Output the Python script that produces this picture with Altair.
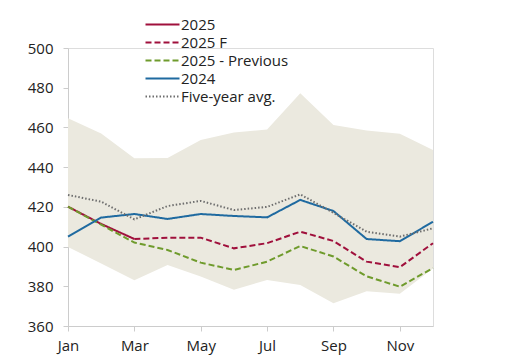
import altair as alt
import pandas as pd

months = ["Jan", "Feb", "Mar", "Apr", "May", "Jun", "Jul", "Aug", "Sep", "Oct", "Nov", "Dec"]
month_num = list(range(1, 13))

band_high = [464.6, 457.0, 444.5, 444.6, 453.7, 457.4, 459.0, 477.2, 461.2, 458.5, 456.8, 448.6]
band_low = [399.8, 391.5, 383.0, 390.7, 384.9, 378.3, 383.2, 380.7, 371.5, 377.5, 376.3, 389.0]

five_year_avg = [426.0, 422.6, 413.7, 420.4, 423.0, 418.4, 420.0, 426.3, 417.0, 407.5, 405.0, 409.2]
y2024 = [405.0, 414.6, 416.4, 413.9, 416.4, 415.4, 414.7, 423.5, 417.9, 403.8, 402.7, 412.5]
y2025_actual = [420.1, 411.4, 403.8]  # Jan-Mar
y2025_forecast = [403.8, 404.5, 404.5, 399.1, 401.7, 407.5, 402.8, 392.4, 389.6, 401.7]  # Mar-Dec
y2025_previous = [420.1, 411.0, 402.0, 398.3, 391.9, 388.2, 392.4, 400.3, 395.0, 385.0, 379.8, 389.2]

series_names = ["2025", "2025 F", "2025 - Previous", "2024", "Five-year avg."]
series_colors = ["#a0103c", "#a0103c", "#6f9b2c", "#1f6aa0", "#6e6e6e"]
series_dash = [[1, 0], [6, 3], [6, 3], [1, 0], [1.5, 2]]
y_ticks = [360, 380, 400, 420, 440, 460, 480, 500]
x_ticks = [1, 3, 5, 7, 9, 11]

rows = []
for m, v in zip(month_num[:3], y2025_actual):
    rows.append({"m": m, "v": v, "s": "2025"})
for m, v in zip(month_num[2:], y2025_forecast):
    rows.append({"m": m, "v": v, "s": "2025 F"})
for m, v in zip(month_num, y2025_previous):
    rows.append({"m": m, "v": v, "s": "2025 - Previous"})
for m, v in zip(month_num, y2024):
    rows.append({"m": m, "v": v, "s": "2024"})
for m, v in zip(month_num, five_year_avg):
    rows.append({"m": m, "v": v, "s": "Five-year avg."})
lines_df = pd.DataFrame(rows)

band_df = pd.DataFrame({"m": month_num, "lo": band_low, "hi": band_high})

label_expr = "[" + ",".join("'" + m + "'" for m in months) + "][datum.value - 1]"

x_axis = alt.Axis(values=x_ticks, labelExpr=label_expr, title=None, grid=False,
                  domainColor="#cccccc", tickColor="#cccccc", tickSize=5, labelPadding=7,
                  labelFontSize=15, labelColor="#222222", labelFont="Open Sans",
                  labelOverlap=False, labelFlush=False)
y_axis = alt.Axis(values=y_ticks, title=None, grid=False,
                  domainColor="#cccccc", tickColor="#cccccc", tickSize=5, labelPadding=10,
                  labelFontSize=15, labelColor="#222222", labelFont="Open Sans",
                  labelOverlap=False, labelFlush=False)
x_scale = alt.Scale(domain=[1, 12], nice=False, zero=False)
y_scale = alt.Scale(domain=[360, 500], nice=False, zero=False)

band = alt.Chart(band_df).mark_area(color="#ebe9df", opacity=1).encode(
    x=alt.X("m:Q", scale=x_scale, axis=x_axis),
    y=alt.Y("lo:Q", scale=y_scale, axis=y_axis),
    y2="hi:Q",
)

legend = alt.Legend(title=None, orient="none", legendX=85, legendY=-33,
                    symbolType="M-2,0H2", symbolSize=289, symbolStrokeWidth=2,
                    labelFontSize=15, labelFont="Open Sans", labelColor="#222222",
                    rowPadding=0, labelOffset=9)

lines = alt.Chart(lines_df).mark_line(strokeWidth=2).encode(
    x=alt.X("m:Q", scale=x_scale, axis=x_axis),
    y=alt.Y("v:Q", scale=y_scale, axis=y_axis),
    color=alt.Color("s:N", scale=alt.Scale(domain=series_names, range=series_colors),
                    sort=series_names, legend=legend),
    strokeDash=alt.StrokeDash("s:N", scale=alt.Scale(domain=series_names, range=series_dash),
                              sort=series_names, legend=legend),
    order=alt.Order("m:Q"),
)

chart = alt.layer(band, lines).properties(
    width=365, height=278,
    autosize=alt.AutoSizeParams(type="none"),
    padding={"left": 60, "top": 40, "right": 20, "bottom": 30},
).configure_view(stroke=None).configure(background="white")

chart.save("out.html", embed_options={"renderer": "svg", "actions": False})
